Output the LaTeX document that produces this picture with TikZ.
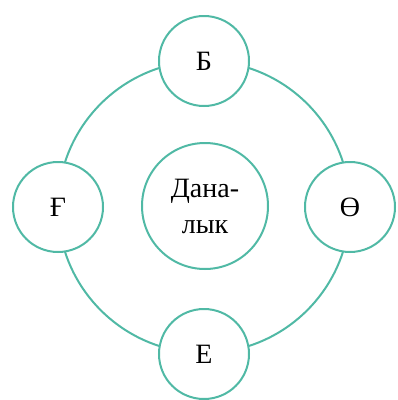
\documentclass[tikz,border=0pt]{standalone}
\usepackage{fontspec}
\setmainfont{Liberation Serif}
\definecolor{tealline}{RGB}{80,185,165}
\begin{document}
\begin{tikzpicture}[x=1pt,y=-1pt,
  ring/.style={circle,draw=tealline,line width=2pt,fill=white,minimum size=90pt,inner sep=0pt,
    font=\fontsize{28}{34}\selectfont},
  core/.style={circle,draw=tealline,line width=2pt,minimum size=126pt,inner sep=0pt,align=center,
    font=\fontsize{28}{36}\selectfont}]
\useasboundingbox (0,0) rectangle (398,400);
\coordinate (c) at (204,207);
\draw[tealline,line width=2pt] (c) circle[radius=146pt];
\node[ring] (b) at (204,61) {Б};
\node[ring] (g) at (58,207) {Ғ};
\node[ring] (o) at (350,207) {Ө};
\node[ring] (e) at (204,354) {Е};
\node[core] (d) at (205,206) {Дана-\\лык};
\end{tikzpicture}
\end{document}
